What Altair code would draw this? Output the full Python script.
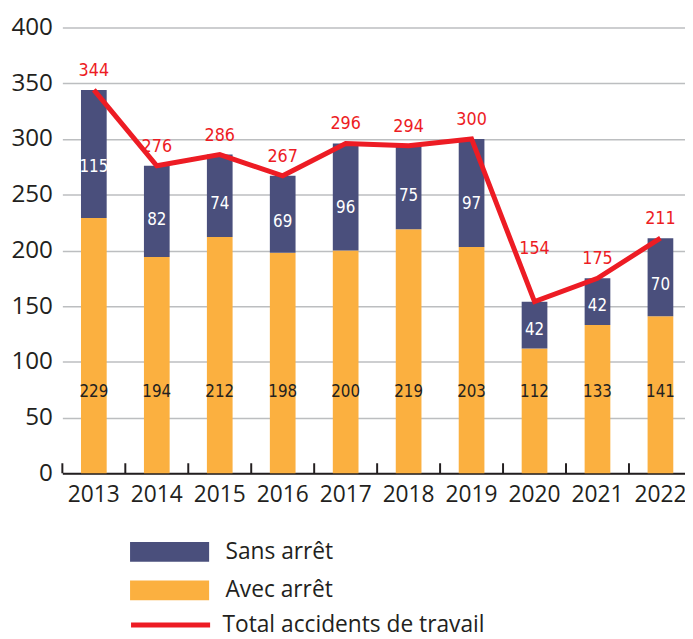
import altair as alt
import pandas as pd

years = ["2013", "2014", "2015", "2016", "2017", "2018", "2019", "2020", "2021", "2022"]
avec_arret = [229, 194, 212, 198, 200, 219, 203, 112, 133, 141]
sans_arret = [115, 82, 74, 69, 96, 75, 97, 42, 42, 70]
totals = [344, 276, 286, 267, 296, 294, 300, 154, 175, 211]
y_ticks = [0, 50, 100, 150, 200, 250, 300, 350, 400]

NAVY = "#4A4F7C"
ORANGE = "#FBB040"
RED = "#ED1C24"
TEXT = "#231F20"
AXFONT = "Open Sans"
LBLFONT = "DejaVu Sans Condensed, Roboto Condensed, Liberation Sans Narrow, Roboto"

wide = pd.DataFrame({
    "year": years,
    "avec": avec_arret,
    "sans": sans_arret,
    "total": totals,
    "series": ["Total accidents de travail"] * len(years),
})
long = pd.DataFrame({
    "year": years * 2,
    "type": ["Avec arrêt"] * len(years) + ["Sans arrêt"] * len(years),
    "value": avec_arret + sans_arret,
    "ord": [0] * len(years) + [1] * len(years),
})

xscale = alt.Scale(domain=years, range=[0, 637], paddingInner=0, paddingOuter=0)
x_axis = alt.Axis(
    title=None, labelAngle=0, ticks=False, grid=False,
    domainColor=TEXT, domainWidth=2,
    labelFont=AXFONT, labelFontSize=23, labelColor=TEXT, labelPadding=11,
)
yscale = alt.Scale(domain=[0, 400], nice=False)
y_axis = alt.Axis(
    title=None, values=y_ticks, domain=False, ticks=False,
    grid=True, gridColor="#BCBEC0", gridWidth=1.5,
    labelFont=AXFONT, labelFontSize=24.5, labelColor=TEXT, labelPadding=10,
)

bars = alt.Chart(long).mark_bar(size=26).encode(
    x=alt.X("year:N", scale=xscale, axis=x_axis),
    y=alt.Y("value:Q", scale=yscale, axis=y_axis, stack="zero"),
    color=alt.Color(
        "type:N",
        scale=alt.Scale(domain=["Sans arrêt", "Avec arrêt"], range=[NAVY, ORANGE]),
        legend=alt.Legend(
            title=None, orient="none", legendX=97, legendY=519,
            symbolType="M-4,-1H4V1H-4Z", symbolSize=400, symbolStrokeWidth=0,
            symbolOpacity=1,
            labelFont=AXFONT, labelFontSize=23, labelColor=TEXT, labelOffset=45,
            labelLimit=400, rowPadding=15,
        ),
    ),
    order=alt.Order("ord:Q"),
)

ticks = alt.Chart(wide).mark_rule(color=TEXT, strokeWidth=2).encode(
    x=alt.X("year:N", scale=xscale, bandPosition=0),
    y=alt.datum(0),
    y2=alt.datum(9),
)

line = alt.Chart(wide).mark_line(strokeWidth=5, strokeJoin="miter").encode(
    x=alt.X("year:N", scale=xscale, bandPosition=0.5),
    y=alt.Y("total:Q", scale=yscale),
    stroke=alt.Stroke(
        "series:N",
        scale=alt.Scale(range=[RED]),
        legend=alt.Legend(
            title=None, orient="none", legendX=97, legendY=592,
            symbolType="M-4,0H4", symbolSize=400, symbolStrokeWidth=5,
            symbolStrokeColor=RED, symbolFillColor="transparent",
            labelFont=AXFONT, labelFontSize=23, labelColor=TEXT, labelOffset=40,
            labelLimit=400,
        ),
    ),
)

total_labels = alt.Chart(wide).transform_calculate(
    ypos="datum.year == '2020' ? datum.total + 47 : datum.total + 17"
).mark_text(
    font=LBLFONT, fontSize=18, color=RED, baseline="middle"
).encode(
    x=alt.X("year:N", scale=xscale, bandPosition=0.5),
    y=alt.Y("ypos:Q", scale=yscale),
    text=alt.Text("total:Q"),
)

sans_labels = alt.Chart(wide).transform_calculate(
    ypos="datum.avec + datum.sans * 0.4"
).mark_text(font=LBLFONT, fontSize=17, color="white", baseline="middle").encode(
    x=alt.X("year:N", scale=xscale, bandPosition=0.5),
    y=alt.Y("ypos:Q", scale=yscale),
    text=alt.Text("sans:Q"),
)

avec_labels = alt.Chart(wide).mark_text(
    font=LBLFONT, fontSize=17, color=TEXT, baseline="middle"
).encode(
    x=alt.X("year:N", scale=xscale, bandPosition=0.5),
    y=alt.datum(73),
    text=alt.Text("avec:Q"),
)

chart = alt.layer(bars, ticks, line, total_labels, sans_labels, avec_labels).resolve_scale(
    color="independent"
).properties(
    width=630,
    height=451,
    autosize=alt.AutoSizeParams(type="none"),
    padding={"left": 55, "top": 16, "right": 0, "bottom": 172},
).configure_view(stroke=None)

chart.save("out.html", embed_options={"renderer": "svg", "actions": False})
